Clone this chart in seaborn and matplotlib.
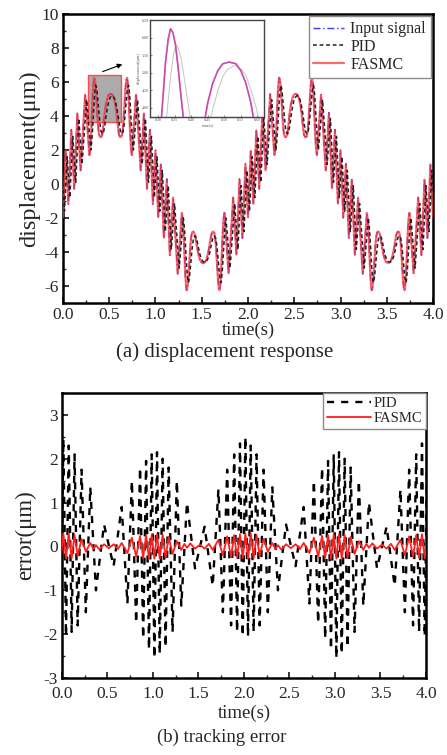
import matplotlib
matplotlib.use("Agg")
import matplotlib.pyplot as plt
from matplotlib.patches import Rectangle
from matplotlib.ticker import MultipleLocator, FormatStrFormatter
import seaborn as sns

sns.set_style("ticks")
plt.rcParams["font.family"] = ["Liberation Serif", "DejaVu Serif"]
plt.rcParams["axes.unicode_minus"] = False

# ---------------- displacement response (um) ----------------
# sample times of the reference / FASMC trace (s)
t_ref = [
    -0.028, 0.000, 0.030, 0.058, 0.090, 0.122, 0.155, 0.190, 0.240, 0.285, 0.295, 0.305, 0.315, 0.322, 0.330,
    0.337, 0.344, 0.352, 0.360, 0.368, 0.376, 0.385, 0.395, 0.410, 0.425, 0.440, 0.450, 0.465, 0.480, 0.495,
    0.515, 0.535, 0.550, 0.565, 0.580, 0.590, 0.605, 0.620, 0.635, 0.645, 0.654, 0.662, 0.670, 0.678, 0.686,
    0.693, 0.700, 0.708, 0.715, 0.725, 0.735, 0.745, 0.790, 0.840, 0.875, 0.908, 0.940, 0.972, 1.000,
    1.030, 1.058, 1.090, 1.122, 1.155, 1.190, 1.240, 1.285, 1.295, 1.305, 1.315, 1.322, 1.330, 1.337, 1.344,
    1.352, 1.360, 1.368, 1.376, 1.385, 1.395, 1.410, 1.425, 1.440, 1.450, 1.465, 1.480, 1.495, 1.515, 1.535,
    1.550, 1.565, 1.580, 1.590, 1.605, 1.620, 1.635, 1.645, 1.654, 1.662, 1.670, 1.678, 1.686, 1.693, 1.700,
    1.708, 1.715, 1.725, 1.735, 1.745, 1.790, 1.840, 1.875, 1.908, 1.940, 1.972, 2.000,
    2.030, 2.058, 2.090, 2.122, 2.155, 2.190, 2.240, 2.285, 2.295, 2.305, 2.315, 2.322, 2.330, 2.337, 2.344,
    2.352, 2.360, 2.368, 2.376, 2.385, 2.395, 2.410, 2.425, 2.440, 2.450, 2.465, 2.480, 2.495, 2.515, 2.535,
    2.550, 2.565, 2.580, 2.590, 2.605, 2.620, 2.635, 2.645, 2.654, 2.662, 2.670, 2.678, 2.686, 2.693, 2.700,
    2.708, 2.715, 2.725, 2.735, 2.745, 2.790, 2.840, 2.875, 2.908, 2.940, 2.972, 3.000,
    3.030, 3.058, 3.090, 3.122, 3.155, 3.190, 3.240, 3.285, 3.295, 3.305, 3.315, 3.322, 3.330, 3.337, 3.344,
    3.352, 3.360, 3.368, 3.376, 3.385, 3.395, 3.410, 3.425, 3.440, 3.450, 3.465, 3.480, 3.495, 3.515, 3.535,
    3.550, 3.565, 3.580, 3.590, 3.605, 3.620, 3.635, 3.645, 3.654, 3.662, 3.670, 3.678, 3.686, 3.693, 3.700,
    3.708, 3.715, 3.725, 3.735, 3.745, 3.790, 3.840, 3.875, 3.908, 3.940, 3.972, 4.000,
]

input_disp = [
    1.2, -2.0, 2.0, -1.2, 3.2, -0.3, 4.2, 0.8, 5.3, 1.7, 2.1, 3.1, 4.4, 5.3, 5.95,
    6.25, 6.15, 5.8, 5.15, 4.4, 3.7, 3.1, 2.8, 2.75, 2.9, 3.6, 4.15, 4.7, 5.05, 5.25,
    5.3, 5.25, 5.05, 4.7, 4.15, 3.6, 2.9, 2.75, 2.8, 3.1, 3.7, 4.4, 5.15, 5.8, 6.15,
    6.25, 5.95, 5.3, 4.4, 3.1, 2.1, 1.7, 5.3, 0.8, 4.2, -0.3, 3.2, -1.2, 2.0,
    -2.0, 1.2, -3.2, 0.3, -4.2, -0.8, -5.3, -1.7, -2.1, -3.1, -4.4, -5.3, -5.95, -6.25, -6.15,
    -5.8, -5.15, -4.4, -3.7, -3.15, -2.85, -2.8, -2.95, -3.4, -3.75, -4.15, -4.45, -4.6, -4.65, -4.6,
    -4.45, -4.15, -3.75, -3.4, -2.95, -2.8, -2.85, -3.15, -3.7, -4.4, -5.15, -5.8, -6.15, -6.25, -5.95,
    -5.3, -4.4, -3.1, -2.1, -1.7, -5.3, -0.8, -4.2, 0.3, -3.2, 1.2, -2.0,
    2.0, -1.2, 3.2, -0.3, 4.2, 0.8, 5.3, 1.7, 2.1, 3.1, 4.4, 5.3, 5.95, 6.25, 6.15,
    5.8, 5.15, 4.4, 3.7, 3.1, 2.8, 2.75, 2.9, 3.6, 4.15, 4.7, 5.05, 5.25, 5.3, 5.25,
    5.05, 4.7, 4.15, 3.6, 2.9, 2.75, 2.8, 3.1, 3.7, 4.4, 5.15, 5.8, 6.15, 6.25, 5.95,
    5.3, 4.4, 3.1, 2.1, 1.7, 5.3, 0.8, 4.2, -0.3, 3.2, -1.2, 2.0,
    -2.0, 1.2, -3.2, 0.3, -4.2, -0.8, -5.3, -1.7, -2.1, -3.1, -4.4, -5.3, -5.95, -6.25, -6.15,
    -5.8, -5.15, -4.4, -3.7, -3.15, -2.85, -2.8, -2.95, -3.4, -3.75, -4.15, -4.45, -4.6, -4.65, -4.6,
    -4.45, -4.15, -3.75, -3.4, -2.95, -2.8, -2.85, -3.15, -3.7, -4.4, -5.15, -5.8, -6.15, -6.25, -5.95,
    -5.3, -4.4, -3.1, -2.1, -1.7, -5.3, -0.8, -4.2, 0.3, -3.2, 1.2, -2.0,
]

fasmc_disp = [
    1.15, -1.95, 1.95, -1.15, 3.15, -0.25, 4.15, 0.8, 5.25, 1.7, 2.1, 3.1, 4.4, 5.3, 5.95,
    6.25, 6.15, 5.8, 5.15, 4.4, 3.7, 3.1, 2.8, 2.75, 2.9, 3.6, 4.15, 4.7, 5.05, 5.25,
    5.3, 5.25, 5.05, 4.7, 4.15, 3.6, 2.9, 2.75, 2.8, 3.1, 3.7, 4.4, 5.15, 5.8, 6.15,
    6.25, 5.95, 5.3, 4.4, 3.1, 2.1, 1.7, 5.25, 0.8, 4.15, -0.25, 3.15, -1.15, 1.95,
    -1.95, 1.15, -3.15, 0.25, -4.15, -0.8, -5.25, -1.7, -2.1, -3.1, -4.4, -5.3, -5.95, -6.25, -6.15,
    -5.8, -5.15, -4.4, -3.7, -3.15, -2.85, -2.8, -2.95, -3.4, -3.75, -4.15, -4.45, -4.6, -4.65, -4.6,
    -4.45, -4.15, -3.75, -3.4, -2.95, -2.8, -2.85, -3.15, -3.7, -4.4, -5.15, -5.8, -6.15, -6.25, -5.95,
    -5.3, -4.4, -3.1, -2.1, -1.7, -5.25, -0.8, -4.15, 0.25, -3.15, 1.15, -1.95,
    1.95, -1.15, 3.15, -0.25, 4.15, 0.8, 5.25, 1.7, 2.1, 3.1, 4.4, 5.3, 5.95, 6.25, 6.15,
    5.8, 5.15, 4.4, 3.7, 3.1, 2.8, 2.75, 2.9, 3.6, 4.15, 4.7, 5.05, 5.25, 5.3, 5.25,
    5.05, 4.7, 4.15, 3.6, 2.9, 2.75, 2.8, 3.1, 3.7, 4.4, 5.15, 5.8, 6.15, 6.25, 5.95,
    5.3, 4.4, 3.1, 2.1, 1.7, 5.25, 0.8, 4.15, -0.25, 3.15, -1.15, 1.95,
    -1.95, 1.15, -3.15, 0.25, -4.15, -0.8, -5.25, -1.7, -2.1, -3.1, -4.4, -5.3, -5.95, -6.25, -6.15,
    -5.8, -5.15, -4.4, -3.7, -3.15, -2.85, -2.8, -2.95, -3.4, -3.75, -4.15, -4.45, -4.6, -4.65, -4.6,
    -4.45, -4.15, -3.75, -3.4, -2.95, -2.8, -2.85, -3.15, -3.7, -4.4, -5.15, -5.8, -6.15, -6.25, -5.95,
    -5.3, -4.4, -3.1, -2.1, -1.7, -5.25, -0.8, -4.15, 0.25, -3.15, 1.15, -1.95,
]

# PID response, sampled at its own (slightly later) instants
t_pid = [
    -0.012, 0.016, 0.046, 0.074, 0.106, 0.138, 0.171, 0.206, 0.256, 0.301, 0.311, 0.321, 0.331, 0.338, 0.346,
    0.353, 0.360, 0.368, 0.376, 0.384, 0.392, 0.401, 0.411, 0.426, 0.441, 0.456, 0.466, 0.481, 0.496, 0.511,
    0.531, 0.551, 0.566, 0.581, 0.596, 0.606, 0.621, 0.636, 0.651, 0.661, 0.670, 0.678, 0.686, 0.694, 0.702,
    0.709, 0.716, 0.724, 0.731, 0.741, 0.751, 0.761, 0.806, 0.856, 0.891, 0.924, 0.956, 0.988, 1.016,
    1.046, 1.074, 1.106, 1.138, 1.171, 1.206, 1.256, 1.301, 1.311, 1.321, 1.331, 1.338, 1.346, 1.353, 1.360,
    1.368, 1.376, 1.384, 1.392, 1.401, 1.411, 1.426, 1.441, 1.456, 1.466, 1.481, 1.496, 1.511, 1.531, 1.551,
    1.566, 1.581, 1.596, 1.606, 1.621, 1.636, 1.651, 1.661, 1.670, 1.678, 1.686, 1.694, 1.702, 1.709, 1.716,
    1.724, 1.731, 1.741, 1.751, 1.761, 1.806, 1.856, 1.891, 1.924, 1.956, 1.988, 2.016,
    2.046, 2.074, 2.106, 2.138, 2.171, 2.206, 2.256, 2.301, 2.311, 2.321, 2.331, 2.338, 2.346, 2.353, 2.360,
    2.368, 2.376, 2.384, 2.392, 2.401, 2.411, 2.426, 2.441, 2.456, 2.466, 2.481, 2.496, 2.511, 2.531, 2.551,
    2.566, 2.581, 2.596, 2.606, 2.621, 2.636, 2.651, 2.661, 2.670, 2.678, 2.686, 2.694, 2.702, 2.709, 2.716,
    2.724, 2.731, 2.741, 2.751, 2.761, 2.806, 2.856, 2.891, 2.924, 2.956, 2.988, 3.016,
    3.046, 3.074, 3.106, 3.138, 3.171, 3.206, 3.256, 3.301, 3.311, 3.321, 3.331, 3.338, 3.346, 3.353, 3.360,
    3.368, 3.376, 3.384, 3.392, 3.401, 3.411, 3.426, 3.441, 3.456, 3.466, 3.481, 3.496, 3.511, 3.531, 3.551,
    3.566, 3.581, 3.596, 3.606, 3.621, 3.636, 3.651, 3.661, 3.670, 3.678, 3.686, 3.694, 3.702, 3.709, 3.716,
    3.724, 3.731, 3.741, 3.751, 3.761, 3.806, 3.856, 3.891, 3.924, 3.956, 3.988, 4.016,
]

pid_disp = [
    0.8, -1.6, 1.6, -0.8, 2.8, 0.1, 3.85, 1.15, 4.95, 2.0, 2.5, 3.3, 4.3, 4.95, 5.5,
    5.8, 5.72, 5.45, 5.0, 4.5, 4.0, 3.5, 3.1, 2.95, 3.1, 3.6, 4.0, 4.5, 4.9, 5.1,
    5.2, 5.1, 4.9, 4.5, 4.0, 3.6, 3.1, 2.95, 3.1, 3.5, 4.0, 4.5, 5.0, 5.45, 5.72,
    5.8, 5.5, 4.95, 4.3, 3.3, 2.5, 2.0, 4.95, 1.15, 3.85, 0.1, 2.8, -0.8, 1.6,
    -1.6, 0.8, -2.8, -0.1, -3.85, -1.15, -4.95, -2.0, -2.5, -3.3, -4.3, -4.95, -5.5, -5.8, -5.72,
    -5.45, -5.0, -4.5, -4.0, -3.55, -3.2, -3.05, -3.15, -3.5, -3.8, -4.15, -4.4, -4.55, -4.6, -4.55,
    -4.4, -4.15, -3.8, -3.5, -3.15, -3.05, -3.2, -3.55, -4.0, -4.5, -5.0, -5.45, -5.72, -5.8, -5.5,
    -4.95, -4.3, -3.3, -2.5, -2.0, -4.95, -1.15, -3.85, -0.1, -2.8, 0.8, -1.6,
    1.6, -0.8, 2.8, 0.1, 3.85, 1.15, 4.95, 2.0, 2.5, 3.3, 4.3, 4.95, 5.5, 5.8, 5.72,
    5.45, 5.0, 4.5, 4.0, 3.5, 3.1, 2.95, 3.1, 3.6, 4.0, 4.5, 4.9, 5.1, 5.2, 5.1,
    4.9, 4.5, 4.0, 3.6, 3.1, 2.95, 3.1, 3.5, 4.0, 4.5, 5.0, 5.45, 5.72, 5.8, 5.5,
    4.95, 4.3, 3.3, 2.5, 2.0, 4.95, 1.15, 3.85, 0.1, 2.8, -0.8, 1.6,
    -1.6, 0.8, -2.8, -0.1, -3.85, -1.15, -4.95, -2.0, -2.5, -3.3, -4.3, -4.95, -5.5, -5.8, -5.72,
    -5.45, -5.0, -4.5, -4.0, -3.55, -3.2, -3.05, -3.15, -3.5, -3.8, -4.15, -4.4, -4.55, -4.6, -4.55,
    -4.4, -4.15, -3.8, -3.5, -3.15, -3.05, -3.2, -3.55, -4.0, -4.5, -5.0, -5.45, -5.72, -5.8, -5.5,
    -4.95, -4.3, -3.3, -2.5, -2.0, -4.95, -1.15, -3.85, -0.1, -2.8, 0.8, -1.6,
]

# ---------------- tracking error (um) ----------------
t_err_pid = [
    -0.014, 0.015, 0.044, 0.074, 0.106, 0.138, 0.172, 0.215, 0.262, 0.311, 0.373, 0.462, 0.567, 0.656,
    0.719, 0.768, 0.815, 0.858, 0.892, 0.924, 0.956, 0.986,
    1.015, 1.044, 1.074, 1.106, 1.138, 1.172, 1.215, 1.262, 1.311, 1.373, 1.462, 1.567, 1.656,
    1.719, 1.768, 1.815, 1.858, 1.892, 1.924, 1.956, 1.986,
    2.015, 2.044, 2.074, 2.106, 2.138, 2.172, 2.215, 2.262, 2.311, 2.373, 2.462, 2.567, 2.656,
    2.719, 2.768, 2.815, 2.858, 2.892, 2.924, 2.956, 2.986,
    3.015, 3.044, 3.074, 3.106, 3.138, 3.172, 3.215, 3.262, 3.311, 3.373, 3.462, 3.567, 3.656,
    3.719, 3.768, 3.815, 3.858, 3.892, 3.924, 3.956, 3.986, 4.015,
]
err_pid = [
    -2.05, 2.45, -2.05, 2.3, -1.95, 2.1, -1.8, 1.75, -1.5, 1.35, -1.0, 0.5, -0.45, 0.9,
    -1.3, 1.5, -1.75, 1.8, -2.1, 1.95, -2.35, 2.1,
    -2.55, 2.15, -2.45, 2.0, -2.3, 1.8, -1.95, 1.5, -1.35, 1.0, -0.5, 0.45, -0.9,
    1.3, -1.5, 1.75, -1.8, 2.1, -1.95, 2.35, -2.05,
    2.5, -2.05, 2.3, -1.95, 2.1, -1.8, 1.75, -1.5, 1.35, -1.0, 0.5, -0.45, 0.9,
    -1.3, 1.5, -1.75, 1.8, -2.1, 1.95, -2.35, 2.1,
    -2.55, 2.15, -2.45, 2.0, -2.3, 1.8, -1.95, 1.5, -1.35, 1.0, -0.5, 0.45, -0.9,
    1.3, -1.5, 1.75, -1.8, 2.1, -1.95, 2.35, -2.05, 2.5,
]

t_err_fasmc = [
    -0.014, 0.015, 0.044, 0.074, 0.106, 0.138, 0.172, 0.215, 0.262, 0.311, 0.345, 0.373, 0.410, 0.462,
    0.515, 0.567, 0.615, 0.656, 0.719, 0.768, 0.815, 0.858, 0.892, 0.924, 0.956, 0.986,
    1.015, 1.044, 1.074, 1.106, 1.138, 1.172, 1.215, 1.262, 1.311, 1.345, 1.373, 1.410, 1.462,
    1.515, 1.567, 1.615, 1.656, 1.719, 1.768, 1.815, 1.858, 1.892, 1.924, 1.956, 1.986,
    2.015, 2.044, 2.074, 2.106, 2.138, 2.172, 2.215, 2.262, 2.311, 2.345, 2.373, 2.410, 2.462,
    2.515, 2.567, 2.615, 2.656, 2.719, 2.768, 2.815, 2.858, 2.892, 2.924, 2.956, 2.986,
    3.015, 3.044, 3.074, 3.106, 3.138, 3.172, 3.215, 3.262, 3.311, 3.345, 3.373, 3.410, 3.462,
    3.515, 3.567, 3.615, 3.656, 3.719, 3.768, 3.815, 3.858, 3.892, 3.924, 3.956, 3.986, 4.015,
]
err_fasmc = [
    -0.28, 0.3, -0.28, 0.3, -0.27, 0.26, -0.22, 0.17, -0.12, 0.08, -0.06, 0.03, -0.07, 0.05,
    -0.04, 0.05, -0.06, 0.08, -0.15, 0.2, -0.23, 0.24, -0.26, 0.26, -0.28, 0.27,
    -0.28, 0.28, -0.28, 0.27, -0.26, 0.22, -0.17, 0.12, -0.08, 0.06, -0.03, 0.07, -0.05,
    0.04, -0.05, 0.06, -0.08, 0.15, -0.2, 0.23, -0.24, 0.26, -0.26, 0.28, -0.27,
    0.3, -0.28, 0.3, -0.27, 0.26, -0.22, 0.17, -0.12, 0.08, -0.06, 0.03, -0.07, 0.05,
    -0.04, 0.05, -0.06, 0.08, -0.15, 0.2, -0.23, 0.24, -0.26, 0.26, -0.28, 0.27,
    -0.28, 0.28, -0.28, 0.27, -0.26, 0.22, -0.17, 0.12, -0.08, 0.06, -0.03, 0.07, -0.05,
    0.04, -0.05, 0.06, -0.08, 0.15, -0.2, 0.23, -0.24, 0.26, -0.26, 0.28, -0.27, 0.3,
]

time_ticks = [0.0, 0.5, 1.0, 1.5, 2.0, 2.5, 3.0, 3.5, 4.0]
disp_ticks = [-6, -4, -2, 0, 2, 4, 6, 8, 10]
err_ticks = [-3, -2, -1, 0, 1, 2, 3]

# colours / styles
C_IN = "#3b3bff"
C_PID = "#202020"
C_FA = "#ff3a3a"


def style_axis(ax, xpad=3):
    for sp in ax.spines.values():
        sp.set_linewidth(1.8)
        sp.set_color("black")
    ax.tick_params(which="major", direction="in", length=4.5, width=1.3,
                   labelsize=12.5, top=False, right=False, pad=3)
    ax.tick_params(axis="x", which="major", pad=xpad)
    ax.tick_params(which="minor", direction="in", length=2.5, width=1.0,
                   top=False, right=False)
    ax.xaxis.set_major_formatter(FormatStrFormatter("%.1f"))
    ax.xaxis.set_minor_locator(MultipleLocator(0.25))


fig = plt.figure(figsize=(4.47, 7.55), dpi=100)
fig.patch.set_facecolor("white")

# ---------- (a) displacement response ----------
ax1 = fig.add_axes([0.1409, 0.5987, 0.8278, 0.3828])
ax1.add_patch(Rectangle((0.274, 3.66), 0.350, 2.77, facecolor="#ababab",
                        edgecolor="#ff4a4a", lw=1.0, zorder=1))
sns.lineplot(x=t_ref, y=input_disp, ax=ax1, color=C_IN, lw=1.0,
             linestyle=(0, (5, 2, 1, 2)), sort=False, estimator=None, zorder=2)
sns.lineplot(x=t_ref, y=fasmc_disp, ax=ax1, color=C_FA, alpha=0.75, lw=1.6,
             sort=False, estimator=None, zorder=3)
sns.lineplot(x=t_pid, y=pid_disp, ax=ax1, color=C_PID, lw=1.1,
             linestyle=(0, (2.5, 1.8)), sort=False, estimator=None, zorder=4)
l_in, l_fa, l_pid = ax1.get_lines()[:3]
ax1.set_xlim(0, 4.0)
ax1.set_ylim(-7, 10)
ax1.set_xticks(time_ticks)
ax1.set_yticks(disp_ticks)
ax1.yaxis.set_minor_locator(MultipleLocator(1))
style_axis(ax1, xpad=3)
ax1.set_xlabel("time(s)", fontsize=13.5, labelpad=-1)
ax1.set_ylabel("displacement(μm)", fontsize=17.5, labelpad=1)
leg1 = ax1.legend([l_in, l_pid, l_fa], ["Input signal", "PID", "FASMC"],
                  loc="upper right", fontsize=11.5, frameon=True, fancybox=False,
                  edgecolor="#8c8c8c", framealpha=1, handlelength=1.9,
                  labelspacing=0.12, borderpad=0.3, borderaxespad=0.15, handletextpad=0.4)
leg1.get_frame().set_linewidth(1.0)
ax1.annotate("", xy=(0.67, 7.1), xytext=(0.40, 6.55),
             arrowprops=dict(arrowstyle="-|>", color="black", lw=0.8, mutation_scale=7))

# zoomed view of the first crest
axin = fig.add_axes([0.3356, 0.845, 0.255, 0.1285])
sns.lineplot(x=t_ref, y=input_disp, ax=axin, color=C_IN, lw=0.9, sort=False,
             estimator=None, zorder=2)
sns.lineplot(x=t_ref, y=fasmc_disp, ax=axin, color="#ff4f8a", alpha=0.7, lw=1.3,
             sort=False, estimator=None, zorder=3)
sns.lineplot(x=t_pid, y=pid_disp, ax=axin, color="#c4c4c4", lw=0.7, sort=False,
             estimator=None, zorder=1)
axin.set_xlim(0.275, 0.62)
axin.set_ylim(3.73, 6.47)
axin.set_xticks([0.30, 0.35, 0.40, 0.45, 0.50, 0.55, 0.60])
axin.set_yticks([4.0, 4.5, 5.0, 5.5, 6.0, 6.5])
axin.xaxis.set_major_formatter(FormatStrFormatter("%.2f"))
axin.yaxis.set_major_formatter(FormatStrFormatter("%.2f"))
axin.tick_params(direction="in", length=1.5, width=0.5, labelsize=3, pad=1,
                 colors="#555555")
for sp in axin.spines.values():
    sp.set_linewidth(1.0)
    sp.set_color("#444444")
axin.set_xlabel("time(s)", fontsize=3.2, labelpad=0.5, color="#555555")
axin.set_ylabel("displacement(μm)", fontsize=3.2, labelpad=0.5, color="#555555")

# ---------- (b) tracking error ----------
ax2 = fig.add_axes([0.1387, 0.1020, 0.8143, 0.3775])
sns.lineplot(x=t_err_pid, y=err_pid, ax=ax2, color="black", lw=1.7,
             linestyle=(0, (3.0, 3.0)), sort=False, estimator=None, zorder=2)
sns.lineplot(x=t_err_fasmc, y=err_fasmc, ax=ax2, color="#ff1e1e", lw=1.3,
             sort=False, estimator=None, zorder=3)
l_epid, l_efa = ax2.get_lines()[:2]
ax2.set_xlim(0, 4.0)
ax2.set_ylim(-3, 3.5)
ax2.set_xticks(time_ticks)
ax2.set_yticks(err_ticks)
ax2.yaxis.set_minor_locator(MultipleLocator(0.5))
style_axis(ax2, xpad=6)
ax2.set_xlabel("time(s)", fontsize=13.5, labelpad=2)
ax2.set_ylabel("error(μm)", fontsize=16.5, labelpad=5)
leg2 = ax2.legend([l_epid, l_efa], ["PID", "FASMC"], loc="upper right",
                  fontsize=10.5, frameon=True, fancybox=False, edgecolor="#8c8c8c",
                  framealpha=1, handlelength=3.0, labelspacing=0.15, borderpad=0.25,
                  borderaxespad=0.0, handletextpad=0.2)
leg2.get_frame().set_linewidth(1.0)

fig.text(0.503, 1 - 352 / 755, "(a) displacement response", ha="center",
         va="center", fontsize=15)
fig.text(0.497, 1 - 737 / 755, "(b) tracking error", ha="center",
         va="center", fontsize=13.5)

fig.savefig("out.png", dpi=100, facecolor="white")
